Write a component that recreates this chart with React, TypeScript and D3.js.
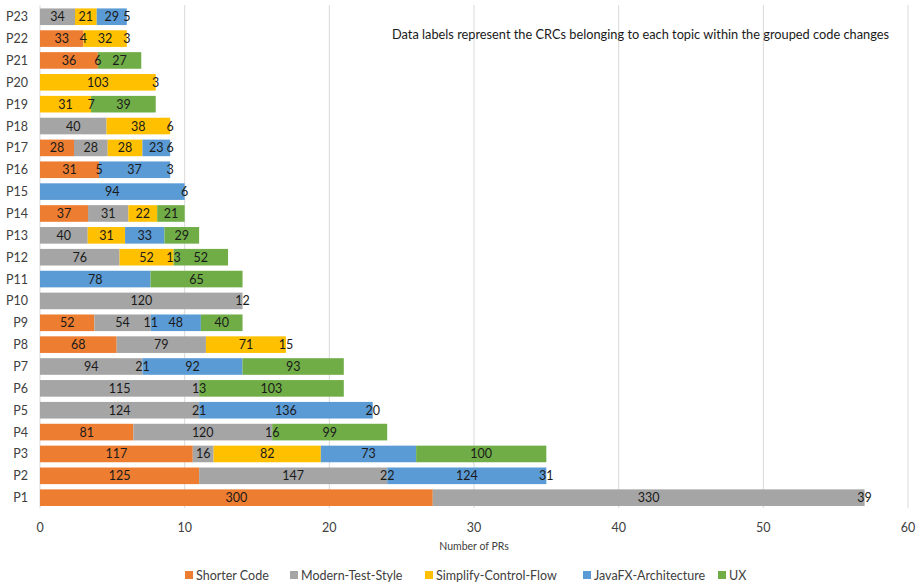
import React from "react";
import * as d3 from "d3";

// Projects P1..P23 (bottom to top)
const projects = Array.from({ length: 23 }, (_, i) => `P${i + 1}`);

const topics = ["Shorter Code", "Modern-Test-Style", "Simplify-Control-Flow", "JavaFX-Architecture", "UX"];
const topicColors = ["#ED7D31", "#A5A5A5", "#FFC000", "#5B9BD5", "#70AD47"];

// Number of PRs attributed to each topic, per project (P1..P23)
const shorterPRs = [27.15, 11, 10.56, 6.45, 0, 0, 0, 5.3, 3.76, 0, 0, 0, 0, 3.32, 0, 4.08, 2.35, 0, 0, 0, 4, 3, 0];
const modernPRs = [29.85, 13, 1.44, 9.6, 11, 11, 7.08, 6.17, 3.9, 14, 0, 5.5, 3.3, 2.79, 0, 0, 2.33, 4.6, 0, 0, 0, 0, 2.42];
const simplifyPRs = [0, 0, 7.41, 0, 0, 0, 0, 5.53, 0, 0, 0, 3.73, 2.58, 1.99, 0, 0, 2.4, 4.4, 3.53, 8, 0, 3, 1.5];
const javafxPRs = [0, 11, 6.59, 0, 12, 0, 6.92, 0, 3.46, 0, 7.64, 0, 2.72, 0, 10, 4.92, 1.92, 0, 0, 0, 0, 0, 2.08];
const uxPRs = [0, 0, 9, 7.95, 0, 10, 7, 0, 2.88, 0, 6.36, 3.77, 2.4, 1.9, 0, 0, 0, 0, 4.47, 0, 3, 0, 0];

// CRCs belonging to each topic (shown as data labels), per project
const shorterCRCs = [300, 125, 117, 81, null, null, null, 68, 52, null, null, null, null, 37, null, 31, 28, null, null, null, 36, 33, null];
const modernCRCs = [330, 147, 16, 120, 124, 115, 94, 79, 54, 120, null, 76, 40, 31, null, 5, 28, 40, null, null, 6, 4, 34];
const simplifyCRCs = [39, 22, 82, 16, 21, 13, 21, 71, 11, 12, null, 52, 31, 22, null, null, 28, 38, 31, 103, null, 32, 21];
const javafxCRCs = [null, 124, 73, null, 136, null, 92, 15, 48, null, 78, 13, 33, null, 94, 37, 23, 6, 7, 3, null, 3, 29];
const uxCRCs = [null, 31, 100, 99, 20, 103, 93, null, 40, null, 65, 52, 29, 21, 6, 3, 6, null, 39, null, 27, null, 5];

const xTicks = [0, 10, 20, 30, 40, 50, 60];

const prSeries = [shorterPRs, modernPRs, simplifyPRs, javafxPRs, uxPRs];
const crcSeries = [shorterCRCs, modernCRCs, simplifyCRCs, javafxCRCs, uxCRCs];

const W = 921;
const H = 584;
const FONT = "Lato, 'Open Sans', sans-serif";

export default function App() {
  const x = d3.scaleLinear().domain([0, 60]).range([40, 908]);
  const y = d3
    .scaleBand<string>()
    .domain([...projects].reverse())
    .range([5.8, 508.6])
    .paddingInner(0.24)
    .paddingOuter(0.12);

  const rows = projects.map((p, i) => {
    const o: Record<string, number | string> = { project: p };
    topics.forEach((t, k) => (o[t] = prSeries[k][i]));
    return o;
  });
  const stacked = d3.stack<Record<string, number | string>>().keys(topics)(rows as any);

  const legendX = [185, 290, 425, 583, 718];

  return (
    <svg
      width={W}
      height={H}
      style={{ position: "absolute", left: 0, top: 0, background: "#fff" }}
      fontFamily={FONT}
    >
      {/* vertical gridlines */}
      {xTicks.map((t) => (
        <line key={t} x1={x(t)} x2={x(t)} y1={5} y2={508} stroke="#D9D9D9" strokeWidth={1} />
      ))}

      {/* stacked bars */}
      {stacked.map((layer, k) => (
        <g key={topics[k]} fill={topicColors[k]}>
          {layer.map((d, i) => {
            const w = x(d[1]) - x(d[0]);
            if (w <= 0) return null;
            return (
              <rect
                key={i}
                x={x(d[0])}
                y={y(projects[i])!}
                width={w}
                height={y.bandwidth()}
              />
            );
          })}
        </g>
      ))}

      {/* CRC data labels */}
      {stacked.map((layer, k) => (
        <g key={"lbl" + topics[k]} fontSize={12.5} fill="#1a1a1a" textAnchor="middle">
          {layer.map((d, i) => {
            const v = crcSeries[k][i];
            if (v === null) return null;
            return (
              <text
                key={i}
                x={(x(d[0]) + x(d[1])) / 2}
                y={y(projects[i])! + y.bandwidth() / 2}
                dy="0.36em"
              >
                {v}
              </text>
            );
          })}
        </g>
      ))}

      {/* category axis labels */}
      {projects.map((p) => (
        <text
          key={p}
          x={28}
          y={y(p)! + y.bandwidth() / 2}
          dy="0.36em"
          textAnchor="end"
          fontSize={12.5}
          fill="#404040"
        >
          {p}
        </text>
      ))}

      {/* value axis tick labels */}
      {xTicks.map((t) => (
        <text key={"t" + t} x={x(t)} y={527} dy="0.36em" textAnchor="middle" fontSize={12.5} fill="#404040">
          {t}
        </text>
      ))}
      <text x={474} y={546} dy="0.36em" textAnchor="middle" fontSize={10.5} fill="#404040">
        Number of PRs
      </text>

      {/* annotation */}
      <text x={392} y={34} dy="0.36em" fontSize={12.5} fill="#1a1a1a" textLength={497} lengthAdjust="spacingAndGlyphs">
        Data labels represent the CRCs belonging to each topic within the grouped code changes
      </text>

      {/* legend */}
      {topics.map((t, k) => (
        <g key={"lg" + t}>
          <rect x={legendX[k]} y={571} width={8} height={8} fill={topicColors[k]} />
          <text x={legendX[k] + 11} y={575} dy="0.36em" fontSize={12.5} fill="#404040">
            {t}
          </text>
        </g>
      ))}
    </svg>
  );
}
